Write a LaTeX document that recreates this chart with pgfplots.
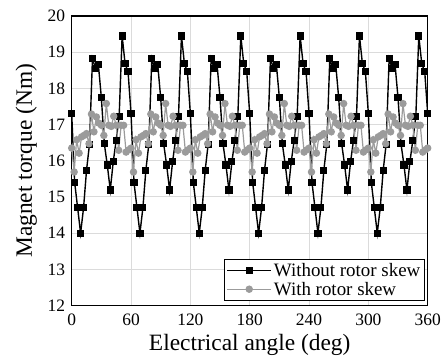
\documentclass[border=0pt]{standalone}
\usepackage{pgfplots}
\pgfplotsset{compat=1.18}
\usepackage{fontspec}
\setmainfont{Liberation Serif}
\definecolor{skewgray}{RGB}{155,155,155}
\begin{document}
\begin{tikzpicture}
\begin{axis}[
  scale only axis, width=356bp, height=289.5bp,
  xmin=0, xmax=360, ymin=12, ymax=20,
  xtick={0,60,120,180,240,300,360}, ytick={12,13,14,15,16,17,18,19,20},
  grid=major, major grid style={draw=black!14, line width=1bp},
  major tick length=0pt,
  axis line style={line width=1.2bp},
  /pgf/number format/assume math mode=true,
  tick label style={font=\fontsize{17.5}{20}\selectfont},
  xticklabel style={yshift=-5bp},
  yticklabel style={xshift=-3bp},
  xlabel={Electrical angle (deg)}, ylabel={Magnet torque (Nm)},
  label style={font=\fontsize{23.5}{27}\selectfont},
  xlabel style={yshift=-2bp},
  ylabel style={yshift=4bp},
  legend style={at={(axis description cs:0.992,0.0155)}, anchor=south east,
    font=\fontsize{19}{22}\selectfont, draw=black, line width=1bp,
    inner xsep=2bp, inner ysep=2bp, row sep=0bp},
  legend cell align=left,
  legend image code/.code={\draw[mark repeat=2,mark phase=2,#1] plot coordinates {(0bp,0bp) (22bp,0bp) (44bp,0bp)};},
]
\addplot[black, line width=1.4bp, mark=square*, mark size=2.9bp, mark options={solid}] coordinates {
(0,17.30)(3,15.40)(6,14.70)(9,14.00)(12,14.70)(15,15.74)(18,16.46)(21,18.82)(24,18.56)(27,18.65)(30,17.74)(33,16.47)(36,15.88)(39,15.19)(42,15.97)(45,16.57)(48,17.23)(51,19.45)(54,18.68)(57,18.46)
(60,17.30)(63,15.40)(66,14.70)(69,14.00)(72,14.70)(75,15.74)(78,16.46)(81,18.82)(84,18.56)(87,18.65)(90,17.74)(93,16.47)(96,15.88)(99,15.19)(102,15.97)(105,16.57)(108,17.23)(111,19.45)(114,18.68)(117,18.46)
(120,17.30)(123,15.40)(126,14.70)(129,14.00)(132,14.70)(135,15.74)(138,16.46)(141,18.82)(144,18.56)(147,18.65)(150,17.74)(153,16.47)(156,15.88)(159,15.19)(162,15.97)(165,16.57)(168,17.23)(171,19.45)(174,18.68)(177,18.46)
(180,17.30)(183,15.40)(186,14.70)(189,14.00)(192,14.70)(195,15.74)(198,16.46)(201,18.82)(204,18.56)(207,18.65)(210,17.74)(213,16.47)(216,15.88)(219,15.19)(222,15.97)(225,16.57)(228,17.23)(231,19.45)(234,18.68)(237,18.46)
(240,17.30)(243,15.40)(246,14.70)(249,14.00)(252,14.70)(255,15.74)(258,16.46)(261,18.82)(264,18.56)(267,18.65)(270,17.74)(273,16.47)(276,15.88)(279,15.19)(282,15.97)(285,16.57)(288,17.23)(291,19.45)(294,18.68)(297,18.46)
(300,17.30)(303,15.40)(306,14.70)(309,14.00)(312,14.70)(315,15.74)(318,16.46)(321,18.82)(324,18.56)(327,18.65)(330,17.74)(333,16.47)(336,15.88)(339,15.19)(342,15.97)(345,16.57)(348,17.23)(351,19.45)(354,18.68)(357,18.46)
(360,17.30)
};
\addlegendentry{Without rotor skew}
\addplot[skewgray, line width=1.2bp, mark=*, mark size=3.1bp, mark options={solid}] coordinates {
(0,16.35)(2.5,15.69)(5,16.58)(7.5,16.21)(10,16.66)(12.5,16.70)(15,16.75)(17.5,16.47)(20,17.29)(22.5,16.80)(25,17.21)(27.5,17.04)(30,16.98)(32.5,16.70)(35,17.58)(37.5,16.98)(40,16.95)(42.5,17.23)(45,16.98)(47.5,16.29)(50,16.98)(52.5,16.98)(55,16.24)(57.5,16.30)
(60,16.35)(62.5,15.69)(65,16.58)(67.5,16.21)(70,16.66)(72.5,16.70)(75,16.75)(77.5,16.47)(80,17.29)(82.5,16.80)(85,17.21)(87.5,17.04)(90,16.98)(92.5,16.70)(95,17.58)(97.5,16.98)(100,16.95)(102.5,17.23)(105,16.98)(107.5,16.29)(110,16.98)(112.5,16.98)(115,16.24)(117.5,16.30)
(120,16.35)(122.5,15.69)(125,16.58)(127.5,16.21)(130,16.66)(132.5,16.70)(135,16.75)(137.5,16.47)(140,17.29)(142.5,16.80)(145,17.21)(147.5,17.04)(150,16.98)(152.5,16.70)(155,17.58)(157.5,16.98)(160,16.95)(162.5,17.23)(165,16.98)(167.5,16.29)(170,16.98)(172.5,16.98)(175,16.24)(177.5,16.30)
(180,16.35)(182.5,15.69)(185,16.58)(187.5,16.21)(190,16.66)(192.5,16.70)(195,16.75)(197.5,16.47)(200,17.29)(202.5,16.80)(205,17.21)(207.5,17.04)(210,16.98)(212.5,16.70)(215,17.58)(217.5,16.98)(220,16.95)(222.5,17.23)(225,16.98)(227.5,16.29)(230,16.98)(232.5,16.98)(235,16.24)(237.5,16.30)
(240,16.35)(242.5,15.69)(245,16.58)(247.5,16.21)(250,16.66)(252.5,16.70)(255,16.75)(257.5,16.47)(260,17.29)(262.5,16.80)(265,17.21)(267.5,17.04)(270,16.98)(272.5,16.70)(275,17.58)(277.5,16.98)(280,16.95)(282.5,17.23)(285,16.98)(287.5,16.29)(290,16.98)(292.5,16.98)(295,16.24)(297.5,16.30)
(300,16.35)(302.5,15.69)(305,16.58)(307.5,16.21)(310,16.66)(312.5,16.70)(315,16.75)(317.5,16.47)(320,17.29)(322.5,16.80)(325,17.21)(327.5,17.04)(330,16.98)(332.5,16.70)(335,17.58)(337.5,16.98)(340,16.95)(342.5,17.23)(345,16.98)(347.5,16.29)(350,16.98)(352.5,16.98)(355,16.24)(357.5,16.30)
(360,16.35)
};
\addlegendentry{With rotor skew}
\end{axis}
\pgfresetboundingbox
\path[use as bounding box] (-71.7bp,-57.5bp) rectangle (371.3bp,305.5bp);
\end{tikzpicture}
\end{document}
